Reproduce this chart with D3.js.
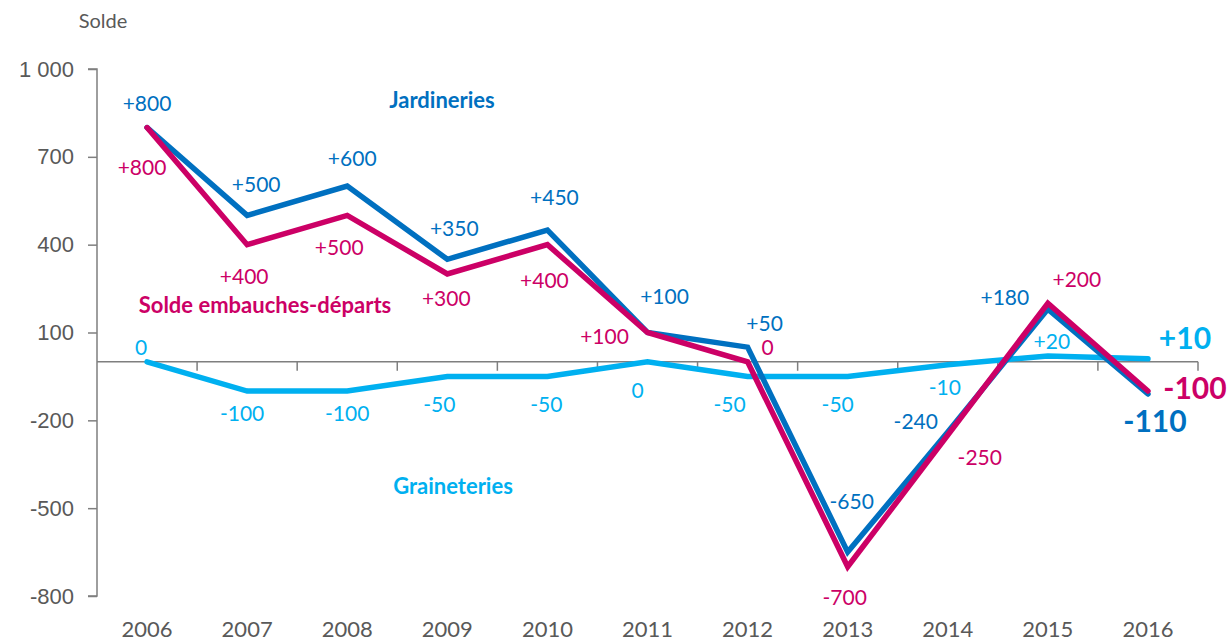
<!DOCTYPE html>
<meta charset="utf-8">
<style>
body { margin: 0; background: #fff; }
svg { display: block; font-family: Lato, "Open Sans", sans-serif; }
.axis path, .axis line { stroke: #7f7f7f; stroke-width: 1.5px; }
.axis text { fill: #595959; font-size: 22px; }
</style>
<script src="https://d3js.org/d3.v7.min.js"></script>
<body>
<svg class="chart" width="1228" height="643"></svg>
<script>

// ---- data
var years = ["2006","2007","2008","2009","2010","2011","2012","2013","2014","2015","2016"];
var jardineries = [800, 500, 600, 350, 450, 100, 50, -650, -240, 180, -110];
var solde = [800, 400, 500, 300, 400, 100, 0, -700, -250, 200, -100];
var graineteries = [0, -100, -100, -50, -50, 0, -50, -50, -10, 20, 10];
var yTicks = [1000, 700, 400, 100, -200, -500, -800];

// label offsets from the point (px)
var jardOff = [[0,-25],[9,-32],[5,-29],[7,-32],[7,-34],[17,-37],[17,-25],[4,-52],[-32,-12],[-43,-13],[7,26]];
var soldeOff = [[-5,39],[-3,31],[-8,31],[-1,24],[-3,35],[-43,3],[20,-15],[-3,30],[32,22],[29,-25],[47,-4]];
var grainOff = [[-6,-15],[-5,21],[0,21],[-8,27],[-1,27],[-10,28],[-18,27],[-10,27],[-3,22],[4,-15],[37,-22]];

var svg = d3.select(".chart");

var x = d3.scaleBand().domain(years).range([97, 1198]);
var y = d3.scaleLinear().domain([-800, 1000]).range([596, 69]);

function fmt(v) { return v > 0 ? "+" + v : String(v); }

// y axis
var yAxis = svg.append("g")
    .attr("class", "axis")
    .attr("transform", "translate(97,0)")
    .call(d3.axisLeft(y).tickValues(yTicks).tickSize(9).tickPadding(14)
      .tickFormat(function(d) { return d === 1000 ? "1 000" : d; }));
yAxis.select(".domain").attr("d", "M-9," + y(1000) + "H0V" + y(-800) + "H-9");

// x axis on zero line, ticks between categories
var xg = svg.append("g").attr("class", "axis");
xg.append("line")
    .attr("x1", 97).attr("x2", 1198)
    .attr("y1", y(0)).attr("y2", y(0));
xg.selectAll(".tk")
  .data(d3.range(1, years.length + 1))
  .enter().append("line")
    .attr("x1", function(i) { return 97 + i * x.step(); })
    .attr("x2", function(i) { return 97 + i * x.step(); })
    .attr("y1", y(0)).attr("y2", y(0) + 9);
xg.selectAll("text")
  .data(years)
  .enter().append("text")
    .attr("x", function(d) { return x(d) + x.bandwidth() / 2; })
    .attr("y", 637)
    .attr("text-anchor", "middle")
    .text(function(d) { return d; });

svg.append("text")
    .attr("x", 103).attr("y", 28)
    .attr("text-anchor", "middle")
    .attr("fill", "#595959")
    .style("font-size", "20px")
    .text("Solde");

var series = [
  { name: "Graineteries", values: graineteries, color: "#00B0F0", off: grainOff, nx: 453, ny: 494 },
  { name: "Jardineries", values: jardineries, color: "#0070C0", off: jardOff, nx: 442, ny: 108 },
  { name: "Solde embauches-départs", values: solde, color: "#CC0066", off: soldeOff, nx: 265, ny: 313 }
];

var line = d3.line()
    .x(function(d, i) { return x(years[i]) + x.bandwidth() / 2; })
    .y(function(d) { return y(d); });

series.forEach(function(s) {
  svg.append("path")
      .datum(s.values)
      .attr("fill", "none")
      .attr("stroke", s.color)
      .attr("stroke-width", 5.5)
      .attr("stroke-linecap", "round")
      .attr("d", line);
});

series.forEach(function(s) {
  var last = s.values.length - 1;
  svg.append("g").selectAll("text")
    .data(s.values)
    .enter().append("text")
      .attr("x", function(d, i) { return x(years[i]) + x.bandwidth() / 2 + s.off[i][0]; })
      .attr("y", function(d, i) { return y(d) + s.off[i][1]; })
      .attr("text-anchor", "middle")
      .attr("dominant-baseline", "central")
      .attr("fill", s.color)
      .style("font-size", function(d, i) { return i === last ? "30px" : "21px"; })
      .style("font-weight", function(d, i) { return i === last ? "bold" : "normal"; })
      .text(function(d) { return fmt(d); });

  svg.append("text")
      .attr("x", s.nx).attr("y", s.ny)
      .attr("text-anchor", "middle")
      .attr("fill", s.color)
      .style("font-size", "22px")
      .style("font-weight", "bold")
      .text(s.name);
});

</script>
</body>
